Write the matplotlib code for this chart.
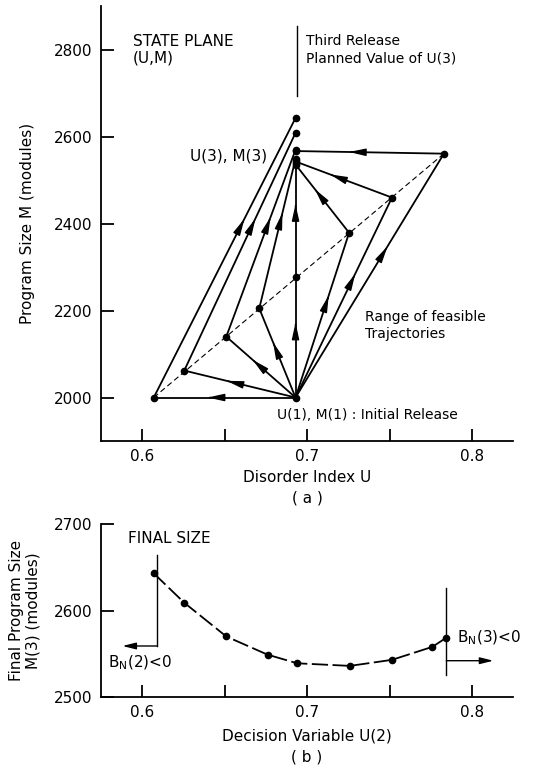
import matplotlib
matplotlib.use("Agg")
import matplotlib.pyplot as plt

# --- data ---
U1, M1 = 0.693, 2000          # initial release
U3 = 0.693                    # planned U(3)

# intermediate states (second release) on the dashed line
u2 = [0.607, 0.6255, 0.651, 0.671, 0.693, 0.7255, 0.7515, 0.783]
m2 = [2000, 2062, 2140, 2205, 2278, 2379, 2460, 2561]
# final size M(3) reached from each intermediate state
m3 = [2643, 2609, 2570, 2549, 2539, 2536, 2543, 2567]

# panel (b) curve
ub = [0.607, 0.6255, 0.651, 0.676, 0.694, 0.726, 0.7515, 0.776, 0.784]
mb = [2643, 2609, 2570, 2549, 2539, 2536, 2543, 2558, 2568]

FS = 10
plt.rcParams["font.family"] = ["DejaVu Sans"]
plt.rcParams["font.size"] = FS


def arrow_on(ax, p0, p1, frac=0.65):
    x = p0[0] + frac * (p1[0] - p0[0])
    y = p0[1] + frac * (p1[1] - p0[1])
    dx = (p1[0] - p0[0]) * 0.02
    dy = (p1[1] - p0[1]) * 0.02
    ax.annotate("", xy=(x + dx, y + dy), xytext=(x, y),
                arrowprops=dict(arrowstyle="-|>,head_length=1.0,head_width=0.22",
                                color="k", lw=1.0, shrinkA=0, shrinkB=0))


def style_axes(ax):
    for s in ("top", "right"):
        ax.spines[s].set_visible(False)
    for s in ("left", "bottom"):
        ax.spines[s].set_linewidth(1.3)
    ax.tick_params(direction="in", length=9, width=1.3, labelsize=FS + 1, pad=6)


fig = plt.figure(figsize=(5.51, 7.68), dpi=100)

# ---------------- (a) state plane ----------------
ax = fig.add_axes([0.1833, 0.4258, 0.748, 0.566])
style_axes(ax)
ax.set_xlim(0.575, 0.825)
ax.set_ylim(1900, 2900)
ax.set_xticks([0.6, 0.65, 0.7, 0.75, 0.8])
ax.set_xticklabels(["0.6", "", "0.7", "", "0.8"])
ax.set_yticks([2000, 2200, 2400, 2600, 2800])

# dashed locus of intermediate states
ax.plot([u2[0], u2[-1]], [m2[0], m2[-1]], color="k", lw=0.8, ls=(0, (5, 3)))

for u, m, mf in zip(u2, m2, m3):
    # first leg: initial release -> intermediate state
    ax.plot([U1, u], [M1, m], color="k", lw=1.3)
    arrow_on(ax, (U1, M1), (u, m), 0.6)
    # second leg: intermediate state -> final
    ax.plot([u, U3], [m, mf], color="k", lw=1.3)
    arrow_on(ax, (u, m), (U3, mf), 0.62)

ax.plot(u2, m2, "o", color="k", ms=4.5)
ax.plot([U3] * len(m3), m3, "o", color="k", ms=4.5)
ax.plot([U1], [M1], "o", color="k", ms=4.5)

ax.plot([0.694, 0.694], [2694, 2855], color="k", lw=1.0)
ax.text(0.5945, 2800, "STATE PLANE\n(U,M)", ha="left", va="center",
        fontsize=FS + 1, linespacing=1.15)
ax.text(0.6995, 2800, "Third Release\nPlanned Value of U(3)", ha="left",
        va="center", fontsize=FS, linespacing=1.3)
ax.text(0.676, 2556, "U(3), M(3)", ha="right", va="center", fontsize=FS + 1)
ax.text(0.735, 2165, "Range of feasible\nTrajectories", ha="left",
        va="center", fontsize=FS, linespacing=1.3)
ax.text(0.682, 1959, "U(1), M(1) : Initial Release", ha="left",
        va="center", fontsize=FS)
ax.set_xlabel("Disorder Index U\n( a )", fontsize=FS + 1, labelpad=4,
              linespacing=1.5)
ax.set_ylabel("Program Size M (modules)", fontsize=FS + 1, labelpad=14)

# ---------------- (b) final size ----------------
bx = fig.add_axes([0.1833, 0.0924, 0.748, 0.2253])
style_axes(bx)
bx.set_xlim(0.575, 0.825)
bx.set_ylim(2500, 2700)
bx.set_xticks([0.6, 0.65, 0.7, 0.75, 0.8])
bx.set_xticklabels(["0.6", "", "0.7", "", "0.8"])
bx.set_yticks([2500, 2600, 2700])
bx.spines["left"].set_bounds(2500, 2700)

bx.plot(ub, mb, color="k", lw=1.3, ls=(0, (9, 2.5)))
bx.plot(ub, mb, "o", color="k", ms=4.5)

# left boundary B_N(2) < 0
bx.plot([0.609, 0.609], [2664, 2559], color="k", lw=1.0)
bx.annotate("", xy=(0.588, 2559), xytext=(0.609, 2559),
            arrowprops=dict(arrowstyle="-|>,head_length=0.8,head_width=0.2",
                            color="k", lw=1.0, shrinkA=0, shrinkB=0))
bx.text(0.5795, 2540, r"B$_\mathregular{N}$(2)<0", ha="left", va="center",
        fontsize=FS + 1)
bx.text(0.5915, 2683, "FINAL SIZE", ha="left", va="center", fontsize=FS + 1)

# right boundary B_N(3) < 0
bx.plot([0.7845, 0.7845], [2626, 2525], color="k", lw=1.0)
bx.annotate("", xy=(0.813, 2542), xytext=(0.7845, 2542),
            arrowprops=dict(arrowstyle="-|>,head_length=0.8,head_width=0.2",
                            color="k", lw=1.0, shrinkA=0, shrinkB=0))
bx.text(0.791, 2568, r"B$_\mathregular{N}$(3)<0", ha="left", va="center",
        fontsize=FS + 1)

bx.set_xlabel("Decision Variable U(2)\n( b )", fontsize=FS + 1, labelpad=6,
              linespacing=1.5)
bx.set_ylabel("Final Program Size\nM(3) (modules)", fontsize=FS + 1,
              labelpad=10, linespacing=1.1)

fig.savefig("out.png", dpi=100)
